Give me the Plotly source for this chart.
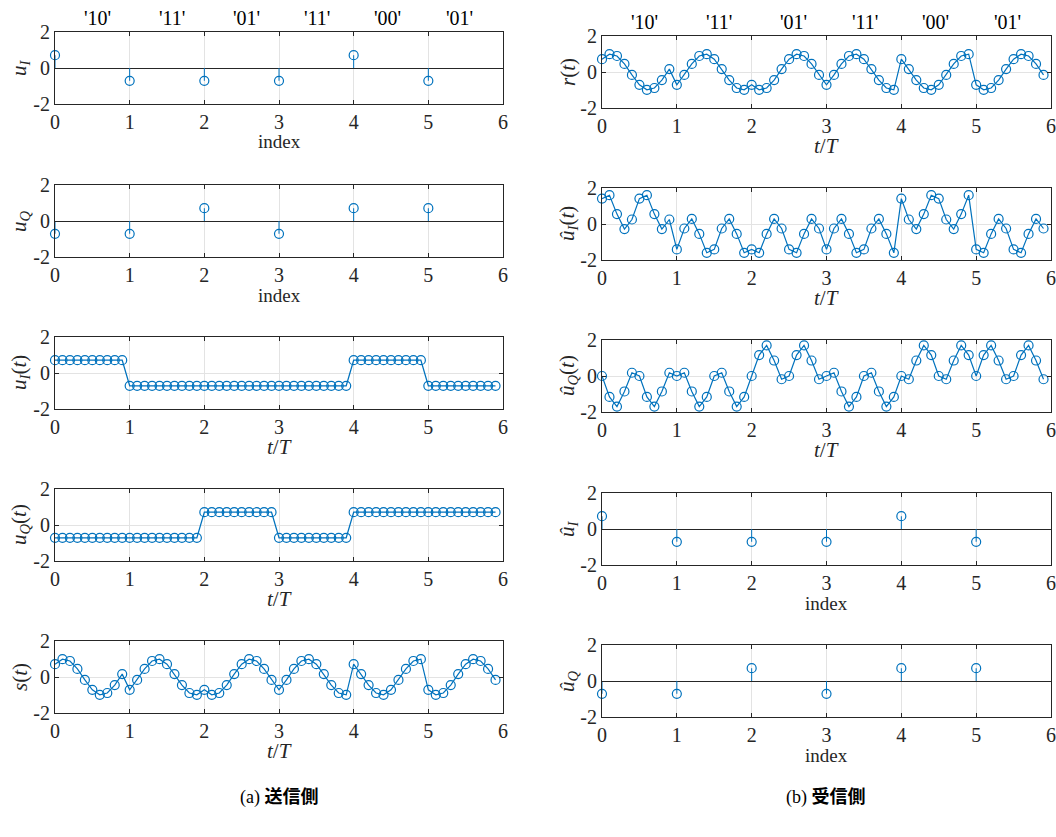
import plotly.graph_objects as go

# ---------------- data ----------------
symbols = ["'10'", "'11'", "'01'", "'11'", "'00'", "'01'"]
index = [0, 1, 2, 3, 4, 5]
u_I = [0.71, -0.71, -0.71, -0.71, 0.71, -0.71]
u_Q = [-0.71, -0.71, 0.71, -0.71, 0.71, 0.71]
uhat_I = [0.71, -0.71, -0.71, -0.71, 0.71, -0.71]
uhat_Q = [-0.71, -0.71, 0.71, -0.71, 0.71, 0.71]

t = [round(0.1 * i, 1) for i in range(60)]

u_I_t = [0.71, 0.71, 0.71, 0.71, 0.71, 0.71, 0.71, 0.71, 0.71, 0.71,
         -0.71, -0.71, -0.71, -0.71, -0.71, -0.71, -0.71, -0.71, -0.71, -0.71,
         -0.71, -0.71, -0.71, -0.71, -0.71, -0.71, -0.71, -0.71, -0.71, -0.71,
         -0.71, -0.71, -0.71, -0.71, -0.71, -0.71, -0.71, -0.71, -0.71, -0.71,
         0.71, 0.71, 0.71, 0.71, 0.71, 0.71, 0.71, 0.71, 0.71, 0.71,
         -0.71, -0.71, -0.71, -0.71, -0.71, -0.71, -0.71, -0.71, -0.71, -0.71]

u_Q_t = [-0.71, -0.71, -0.71, -0.71, -0.71, -0.71, -0.71, -0.71, -0.71, -0.71,
         -0.71, -0.71, -0.71, -0.71, -0.71, -0.71, -0.71, -0.71, -0.71, -0.71,
         0.71, 0.71, 0.71, 0.71, 0.71, 0.71, 0.71, 0.71, 0.71, 0.71,
         -0.71, -0.71, -0.71, -0.71, -0.71, -0.71, -0.71, -0.71, -0.71, -0.71,
         0.71, 0.71, 0.71, 0.71, 0.71, 0.71, 0.71, 0.71, 0.71, 0.71,
         0.71, 0.71, 0.71, 0.71, 0.71, 0.71, 0.71, 0.71, 0.71, 0.71]

s_t = [0.71, 0.99, 0.89, 0.45, -0.16, -0.71, -0.99, -0.89, -0.45, 0.16,
       -0.71, -0.16, 0.45, 0.89, 0.99, 0.71, 0.16, -0.45, -0.89, -0.99,
       -0.71, -0.99, -0.89, -0.45, 0.16, 0.71, 0.99, 0.89, 0.45, -0.16,
       -0.71, -0.16, 0.45, 0.89, 0.99, 0.71, 0.16, -0.45, -0.89, -0.99,
       0.71, 0.16, -0.45, -0.89, -0.99, -0.71, -0.16, 0.45, 0.89, 0.99,
       -0.71, -0.99, -0.89, -0.45, 0.16, 0.71, 0.99, 0.89, 0.45, -0.16]

r_t = [0.71, 0.99, 0.89, 0.45, -0.16, -0.71, -0.99, -0.89, -0.45, 0.16,
       -0.71, -0.16, 0.45, 0.89, 0.99, 0.71, 0.16, -0.45, -0.89, -0.99,
       -0.71, -0.99, -0.89, -0.45, 0.16, 0.71, 0.99, 0.89, 0.45, -0.16,
       -0.71, -0.16, 0.45, 0.89, 0.99, 0.71, 0.16, -0.45, -0.89, -0.99,
       0.71, 0.16, -0.45, -0.89, -0.99, -0.71, -0.16, 0.45, 0.89, 0.99,
       -0.71, -0.99, -0.89, -0.45, 0.16, 0.71, 0.99, 0.89, 0.45, -0.16]

uhat_I_t = [1.41, 1.60, 0.55, -0.28, 0.25, 1.41, 1.60, 0.55, -0.28, 0.25,
            -1.41, -0.25, 0.28, -0.55, -1.60, -1.41, -0.25, 0.28, -0.55, -1.60,
            -1.41, -1.60, -0.55, 0.28, -0.25, -1.41, -1.60, -0.55, 0.28, -0.25,
            -1.41, -0.25, 0.28, -0.55, -1.60, -1.41, -0.25, 0.28, -0.55, -1.60,
            1.41, 0.25, -0.28, 0.55, 1.60, 1.41, 0.25, -0.28, 0.55, 1.60,
            -1.41, -1.60, -0.55, 0.28, -0.25, -1.41, -1.60, -0.55, 0.28, -0.25]

uhat_Q_t = [0.0, -1.16, -1.70, -0.86, 0.18, 0.0, -1.16, -1.70, -0.86, 0.18,
            0.0, 0.18, -0.86, -1.70, -1.16, 0.0, 0.18, -0.86, -1.70, -1.16,
            0.0, 1.16, 1.70, 0.86, -0.18, 0.0, 1.16, 1.70, 0.86, -0.18,
            0.0, 0.18, -0.86, -1.70, -1.16, 0.0, 0.18, -0.86, -1.70, -1.16,
            0.0, -0.18, 0.86, 1.70, 1.16, 0.0, -0.18, 0.86, 1.70, 1.16,
            0.0, 1.16, 1.70, 0.86, -0.18, 0.0, 1.16, 1.70, 0.86, -0.18]

# ---------------- styling / layout ----------------
W, H = 1056, 837
BLUE = "#0072BD"
AX = "#262626"
GRID = "#e3e3e3"
SERIF = "Liberation Serif"

left_x = (55, 503)
right_x = (602, 1051)
left_rows = [(32, 104), (185, 257), (337, 409), (489, 561), (641, 713)]
right_rows = [(36, 108), (188, 260), (340, 412), (493, 565), (645, 717)]
label_pos = [0.57, 1.57, 2.56, 3.51, 4.45, 5.42]

it = lambda s: "<i>%s</i>" % s
TT = it("t") + "/" + it("T")
panels = [
    # (col, row, kind, x, y, ylabel, xlabel)
    ("L", 0, "stem", index, u_I, it("u") + "<sub>" + it("I") + "</sub>", "index"),
    ("L", 1, "stem", index, u_Q, it("u") + "<sub>" + it("Q") + "</sub>", "index"),
    ("L", 2, "line", t, u_I_t, it("u") + "<sub>" + it("I") + "</sub>(" + it("t") + ")", TT),
    ("L", 3, "line", t, u_Q_t, it("u") + "<sub>" + it("Q") + "</sub>(" + it("t") + ")", TT),
    ("L", 4, "line", t, s_t, it("s") + "(" + it("t") + ")", TT),
    ("R", 0, "line", t, r_t, it("r") + "(" + it("t") + ")", TT),
    ("R", 1, "line", t, uhat_I_t, it("û") + "<sub>" + it("I") + "</sub>(" + it("t") + ")", TT),
    ("R", 2, "line", t, uhat_Q_t, it("û") + "<sub>" + it("Q") + "</sub>(" + it("t") + ")", TT),
    ("R", 3, "stem", index, uhat_I, it("û") + "<sub>" + it("I") + "</sub>", "index"),
    ("R", 4, "stem", index, uhat_Q, it("û") + "<sub>" + it("Q") + "</sub>", "index"),
]

fig = go.Figure()
layout = dict(
    width=W, height=H,
    margin=dict(l=0, r=0, t=0, b=0),
    paper_bgcolor="white", plot_bgcolor="white",
    showlegend=False,
    font=dict(family=SERIF, size=20, color=AX),
)
annotations = []

for i, (col, row, kind, xs, ys, ylab, xlab) in enumerate(panels, start=1):
    xd = left_x if col == "L" else right_x
    top, bot = (left_rows if col == "L" else right_rows)[row]
    xa = "x" if i == 1 else "x%d" % i
    ya = "y" if i == 1 else "y%d" % i
    if kind == "stem":
        sx, sy = [], []
        for xv, yv in zip(xs, ys):
            sx += [xv, xv, None]
            sy += [0, yv, None]
        fig.add_trace(go.Scatter(x=sx, y=sy, mode="lines", xaxis=xa, yaxis=ya,
                                 line=dict(color=BLUE, width=1), hoverinfo="skip",
                                 cliponaxis=False))
        fig.add_trace(go.Scatter(x=xs, y=ys, mode="markers", xaxis=xa, yaxis=ya,
                                 marker=dict(symbol="circle-open", size=9, color=BLUE,
                                             line=dict(width=1.2, color=BLUE)),
                                 cliponaxis=False))
    else:
        fig.add_trace(go.Scatter(x=xs, y=ys, mode="lines+markers", xaxis=xa, yaxis=ya,
                                 line=dict(color=BLUE, width=1.2),
                                 marker=dict(symbol="circle-open", size=9, color=BLUE,
                                             line=dict(width=1.2, color=BLUE)),
                                 cliponaxis=False))
    common = dict(showline=True, mirror="ticks", linecolor=AX, linewidth=1,
                  ticks="inside", ticklen=4, tickcolor=AX, tickwidth=1,
                  showgrid=True, gridcolor=GRID, gridwidth=1, automargin=False,
                  tickfont=dict(family=SERIF, size=20, color=AX))
    layout["xaxis" if i == 1 else "xaxis%d" % i] = dict(
        domain=[xd[0] / W, xd[1] / W], anchor=ya, range=[0, 6],
        tickvals=[0, 1, 2, 3, 4, 5, 6], zeroline=False, **common)
    layout["yaxis" if i == 1 else "yaxis%d" % i] = dict(
        domain=[1 - bot / H, 1 - top / H], anchor=xa, range=[-2, 2],
        tickvals=[-2, 0, 2], ticktext=["-2", "0", "2"],
        zeroline=(kind == "stem"), zerolinecolor=AX, zerolinewidth=1, **common)

    # y label
    ylx = 20 if col == "L" else 568
    annotations.append(dict(text=ylab, textangle=-90, xref="paper", yref="paper",
                            x=ylx / W, y=1 - (top + bot) / 2 / H, showarrow=False,
                            xanchor="center", yanchor="middle",
                            font=dict(family=SERIF, size=21, color=AX)))
    # x label
    annotations.append(dict(text=xlab, xref="paper", yref="paper",
                            x=(xd[0] + xd[1]) / 2 / W, y=1 - (bot + 38) / H,
                            showarrow=False, xanchor="center", yanchor="middle",
                            font=dict(family=SERIF, size=21 if xlab != "index" else 19,
                                      color=AX)))
    # symbol labels above first row
    if row == 0:
        for lab, p in zip(symbols, label_pos):
            annotations.append(dict(text=lab, xref=xa, yref="paper", x=p,
                                    y=1 - (top - 14) / H, showarrow=False,
                                    xanchor="center", yanchor="middle",
                                    font=dict(family=SERIF, size=20, color="black")))

CAP = "Liberation Serif, Noto Sans CJK JP"
annotations.append(dict(text="(a) <b>送信側</b>", xref="paper", yref="paper", x=279 / W,
                        y=1 - 797 / H, showarrow=False, xanchor="center", yanchor="middle",
                        font=dict(family=CAP, size=18, color="black")))
annotations.append(dict(text="(b) <b>受信側</b>", xref="paper", yref="paper", x=826 / W,
                        y=1 - 797 / H, showarrow=False, xanchor="center", yanchor="middle",
                        font=dict(family=CAP, size=18, color="black")))

layout["annotations"] = annotations
fig.update_layout(**layout)
fig.write_html("out.html")
